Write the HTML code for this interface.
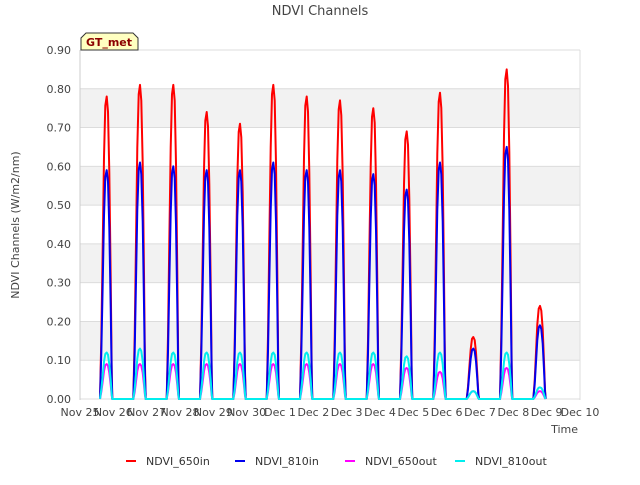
<!DOCTYPE html>
<html><head><meta charset="utf-8"><style>
body{margin:0;background:#fff;font-family:"Liberation Sans","DejaVu Sans",sans-serif}
</style></head><body>
<svg width="640" height="480" xmlns="http://www.w3.org/2000/svg" font-family="DejaVu Sans, Liberation Sans, sans-serif">
<text x="320" y="15" text-anchor="middle" font-size="13" fill="#444">NDVI Channels</text>
<g id="bands"></g>
<g id="grid"></g>
<g id="yticks" font-size="11" fill="#444"></g>
<g id="xticks" font-size="11" fill="#444"></g>
<g id="series" fill="none" stroke-width="2" stroke-linejoin="round"></g>
<text x="19" y="225" transform="rotate(-90 19 225)" text-anchor="middle" font-size="11" fill="#444">NDVI Channels (W/m2/nm)</text>
<text x="578" y="433" text-anchor="end" font-size="11" fill="#444">Time</text>
<g>
<path d="M81,50 L81,38 L86,33 L133,33 L138,38 L138,50 Z" fill="#ffffc0" stroke="#333"/>
<text x="109" y="46" text-anchor="middle" font-size="11" font-weight="bold" fill="#8b0000">GT_met</text>
</g>
<g id="legend" font-size="11" fill="#333"></g>
</svg>
<script>
const xLabels=["Nov 25","Nov 26","Nov 27","Nov 28","Nov 29","Nov 30","Dec 1","Dec 2","Dec 3","Dec 4","Dec 5","Dec 6","Dec 7","Dec 8","Dec 9","Dec 10"];
const yTicks=[0,0.1,0.2,0.3,0.4,0.5,0.6,0.7,0.8,0.9];
const peakDays=[0.8,1.8,2.8,3.8,4.8,5.8,6.8,7.8,8.8,9.8,10.8,11.8,12.8,13.8];
const ndvi650in=[0.78,0.81,0.81,0.74,0.71,0.81,0.78,0.77,0.75,0.69,0.79,0.16,0.85,0.24];
const ndvi810in=[0.59,0.61,0.60,0.59,0.59,0.61,0.59,0.59,0.58,0.54,0.61,0.13,0.65,0.19];
const ndvi650out=[0.09,0.09,0.09,0.09,0.09,0.09,0.09,0.09,0.09,0.08,0.07,0.02,0.08,0.02];
const ndvi810out=[0.12,0.13,0.12,0.12,0.12,0.12,0.12,0.12,0.12,0.11,0.12,0.02,0.12,0.03];
const seriesNames=["NDVI_650in","NDVI_810in","NDVI_650out","NDVI_810out"];
const seriesColors=["#ff0000","#0000ee","#ff00ff","#00eeee"];
const X0=80,X1=580,Y0=399,Y1=50;
const xs=d=>X0+(X1-X0)*d/15;
const ys=v=>Y0-(Y0-Y1)*v/0.9;
const NS="http://www.w3.org/2000/svg";
function mk(t,a,p){const e=document.createElementNS(NS,t);for(const k in a)e.setAttribute(k,a[k]);p.appendChild(e);return e;}
const bands=document.getElementById('bands'),grid=document.getElementById('grid');
for(let i=1;i<9;i+=2){
 const r=mk('rect',{x:X0,y:ys(yTicks[i+1]),width:X1-X0,height:ys(yTicks[i])-ys(yTicks[i+1]),fill:'#f2f2f2'},bands);
 
 
}
const yt=document.getElementById('yticks');
yTicks.forEach(v=>{
 const l=mk('line',{x1:X0,x2:X1,y1:ys(v),y2:ys(v),stroke:'#dcdcdc'},grid);
 
 
 const t=mk('text',{x:X0-9,y:ys(v)+4,'text-anchor':'end'},yt);t.textContent=v.toFixed(2);
 
 
});
mk('line',{x1:X0,x2:X0,y1:Y1,y2:Y0+1,stroke:'#ccc'},grid);
mk('line',{x1:X1,x2:X1,y1:Y1,y2:Y0+1,stroke:'#ddd'},grid);
const xt=document.getElementById('xticks');
xLabels.forEach((s,i)=>{
 const t=mk('text',{x:xs(i),y:Y0+17,'text-anchor':'middle'},xt);t.textContent=s;
 
 
});
// peak shape profile
const prof=[[-0.2,0],[-0.16,0.2],[-0.12,0.5],[-0.08,0.8],[-0.04,0.97],[0,1],[0.04,0.95],[0.08,0.75],[0.12,0.4],[0.15,0.1],[0.17,0]];
const sg=document.getElementById('series');
[ndvi650in,ndvi810in,ndvi650out,ndvi810out].forEach((vals,si)=>{
 let d='M'+xs(0.6)+','+ys(0);
 vals.forEach((v,i)=>{
  prof.forEach(([o,f])=>{d+=' L'+xs(peakDays[i]+o).toFixed(1)+','+ys(v*f).toFixed(1);});
  if(i<vals.length-1) d+=' L'+xs(peakDays[i+1]-0.2).toFixed(1)+','+ys(0);
 });
 const p=mk('path',{d:d,stroke:seriesColors[si]},sg);
 
 
});
const lg=document.getElementById('legend');
const lx=[126,235,345,455];
seriesNames.forEach((n,i)=>{
 const g=mk('g',{},lg);
 
 
 mk('line',{x1:lx[i],x2:lx[i]+10,y1:461,y2:461,stroke:seriesColors[i],'stroke-width':2},g);
 const t=mk('text',{x:lx[i]+20,y:465},g);t.textContent=n;
});
</script>
</body></html>
